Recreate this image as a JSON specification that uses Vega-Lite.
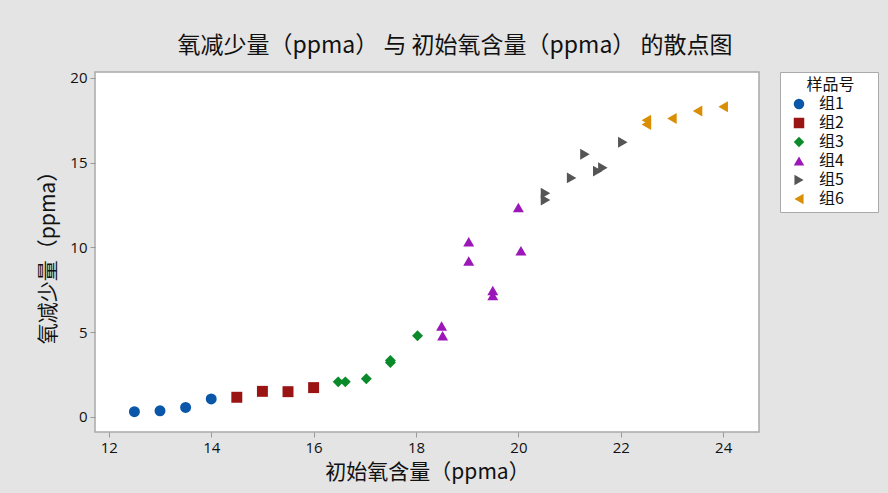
{
  "$schema": "https://vega.github.io/schema/vega-lite/v6.json",
  "autosize": "none",
  "width": 664,
  "height": 360,
  "padding": {"left": 95, "top": 72, "right": 129, "bottom": 61},
  "background": "#e4e4e4",
  "title": {
    "text": "氧减少量（ppma） 与 初始氧含量（ppma） 的散点图",
    "font": "Noto Sans CJK SC",
    "fontSize": 23,
    "fontWeight": "normal",
    "color": "#111111",
    "anchor": "middle",
    "dx": 28,
    "offset": 13
  },
  "config": {
    "view": {"fill": "white", "stroke": "#a9a9a9", "strokeWidth": 1.5},
    "axis": {
      "grid": false,
      "domain": false,
      "tickColor": "#9a9a9a",
      "tickSize": 5,
      "labelFont": "Open Sans",
      "labelFontSize": 15,
      "labelColor": "#111111",
      "titleFont": "Noto Sans CJK SC",
      "titleFontSize": 21,
      "titleFontWeight": "normal",
      "titleColor": "#111111"
    }
  },
  "data": {
    "values": [
      {"组": "组1", "x": 12.5, "y": 0.3},
      {"组": "组1", "x": 13.0, "y": 0.35},
      {"组": "组1", "x": 13.5, "y": 0.55},
      {"组": "组1", "x": 14.0, "y": 1.05},
      {"组": "组2", "x": 14.5, "y": 1.15},
      {"组": "组2", "x": 15.0, "y": 1.5},
      {"组": "组2", "x": 15.5, "y": 1.48},
      {"组": "组2", "x": 16.0, "y": 1.72},
      {"组": "组3", "x": 16.48, "y": 2.06},
      {"组": "组3", "x": 16.62, "y": 2.06},
      {"组": "组3", "x": 17.03, "y": 2.24},
      {"组": "组3", "x": 17.5, "y": 3.2},
      {"组": "组3", "x": 17.5, "y": 3.32},
      {"组": "组3", "x": 18.03, "y": 4.78},
      {"组": "组4", "x": 18.5, "y": 5.35},
      {"组": "组4", "x": 18.52, "y": 4.78},
      {"组": "组4", "x": 19.03, "y": 10.33},
      {"组": "组4", "x": 19.03, "y": 9.2},
      {"组": "组4", "x": 19.5, "y": 7.45},
      {"组": "组4", "x": 19.5, "y": 7.15},
      {"组": "组4", "x": 20.0, "y": 12.35},
      {"组": "组4", "x": 20.05, "y": 9.8},
      {"组": "组5", "x": 20.53, "y": 13.2},
      {"组": "组5", "x": 20.53, "y": 12.8},
      {"组": "组5", "x": 21.04, "y": 14.1},
      {"组": "组5", "x": 21.3, "y": 15.5},
      {"组": "组5", "x": 21.55, "y": 14.5},
      {"组": "组5", "x": 21.65, "y": 14.7},
      {"组": "组5", "x": 22.04, "y": 16.2},
      {"组": "组6", "x": 22.5, "y": 17.5},
      {"组": "组6", "x": 22.5, "y": 17.25},
      {"组": "组6", "x": 23.0, "y": 17.6},
      {"组": "组6", "x": 23.5, "y": 18.05},
      {"组": "组6", "x": 24.0, "y": 18.3}
    ]
  },
  "mark": {"type": "point", "filled": true, "size": 120, "opacity": 1},
  "encoding": {
    "x": {
      "field": "x",
      "type": "quantitative",
      "title": "初始氧含量（ppma）",
      "scale": {"domain": [11.73, 24.7], "nice": false, "zero": false},
      "axis": {"values": [12, 14, 16, 18, 20, 22, 24], "titlePadding": 6, "labelPadding": 3}
    },
    "y": {
      "field": "y",
      "type": "quantitative",
      "title": "氧减少量（ppma）",
      "scale": {"domain": [-0.9, 20.35], "nice": false, "zero": false},
      "axis": {"values": [0, 5, 10, 15, 20], "titlePadding": 11, "labelPadding": 3}
    },
    "color": {
      "field": "组",
      "type": "nominal",
      "scale": {
        "domain": ["组1", "组2", "组3", "组4", "组5", "组6"],
        "range": ["#0a56a8", "#9b1414", "#0a8a2a", "#9b17b8", "#555555", "#d98e04"]
      },
      "legend": {
        "title": "\u200b\u00a0\u00a0\u00a0\u00a0\u00a0\u00a0样品号\u00a0\u00a0\u00a0\u00a0\u00a0\u200b",
        "orient": "none",
        "legendX": 685,
        "legendY": 0,
        "fillColor": "white",
        "strokeColor": "#a9a9a9",
        "padding": 5,
        "titleFont": "Noto Sans CJK SC",
        "titleFontSize": 16,
        "titleFontWeight": "normal",
        "titleColor": "#111111",
        "titleAlign": "left",
        "titlePadding": 3,
        "labelFont": "Noto Sans CJK SC",
        "labelFontSize": 16,
        "labelColor": "#111111",
        "labelLimit": 200,
        "symbolSize": 110,
        "rowPadding": 3,
        "symbolOffset": 6,
        "labelOffset": 12
      }
    },
    "shape": {
      "field": "组",
      "type": "nominal",
      "scale": {
        "domain": ["组1", "组2", "组3", "组4", "组5", "组6"],
        "range": ["circle", "square", "diamond", "triangle-up", "triangle-right", "triangle-left"]
      }
    }
  }
}
